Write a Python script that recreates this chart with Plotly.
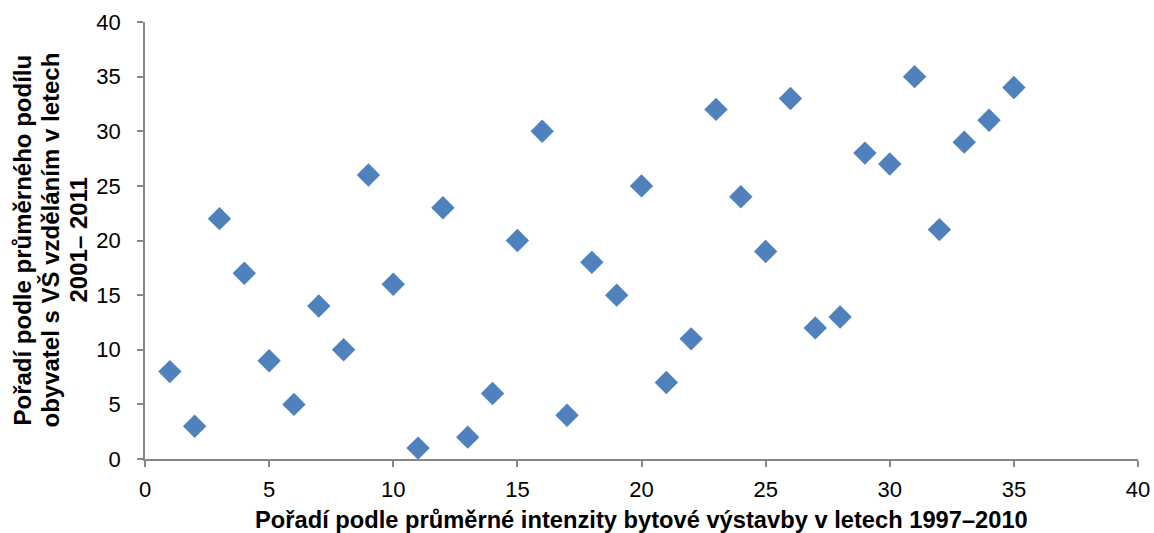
import plotly.graph_objects as go

x_rank = list(range(1, 36))
y_rank = [8, 3, 22, 17, 9, 5, 14, 10, 26, 16, 1, 23, 2, 6, 20, 30, 4, 18, 15, 25,
          7, 11, 32, 24, 19, 33, 12, 13, 28, 27, 35, 21, 29, 31, 34]

x_title = "Pořadí podle průměrné intenzity bytové výstavby v letech 1997–2010"
y_title_lines = ["Pořadí podle průměrného podílu",
                 "obyvatel s VŠ vzděláním v letech",
                 "2001– 2011"]

FONT = "Liberation Sans, Arial, sans-serif"

fig = go.Figure()
fig.add_trace(go.Scatter(
    x=x_rank, y=y_rank, mode="markers",
    marker=dict(symbol="diamond", size=18, color="#4F81BD", line=dict(width=0)),
    showlegend=False,
))

axis_common = dict(
    showgrid=False, zeroline=False, showline=True, linecolor="#868686", linewidth=1.5,
    ticks="outside", ticklen=6, tickcolor="#868686", tickwidth=1.5,
    tickfont=dict(family=FONT, size=22, color="#000000"),
    dtick=5, range=[0, 40], fixedrange=True, automargin=False,
)

L, R, T, B = 145, 16, 22, 74
W, H = 1154, 533
ph = H - T - B
pw = W - L - R

fig.update_layout(
    width=W, height=H,
    margin=dict(l=L, r=R, t=T, b=B),
    paper_bgcolor="white", plot_bgcolor="white",
    xaxis=dict(**axis_common, ticklabelstandoff=4),
    yaxis=dict(**axis_common, ticklabelstandoff=12),
)

# x-axis title
fig.add_annotation(
    text="<b>" + x_title + "</b>", xref="paper", yref="paper",
    x=0.5, y=-(520 - (T + ph)) / ph, xanchor="center", yanchor="middle",
    showarrow=False, font=dict(family=FONT, size=23.7, color="#000000"),
)

# y-axis title, three rotated lines
line_centers_px = [22, 50, 78]
for txt, cx in zip(y_title_lines, line_centers_px):
    fig.add_annotation(
        text="<b>" + txt + "</b>", xref="paper", yref="paper",
        x=(cx - L) / pw, y=0.5, xanchor="center", yanchor="middle",
        textangle=-90, showarrow=False,
        font=dict(family=FONT, size=24, color="#000000"),
    )

fig.write_html(
    "out.html",
    config={"displayModeBar": False},
    post_script="document.body.style.margin='0';document.body.style.overflow='hidden';",
)
